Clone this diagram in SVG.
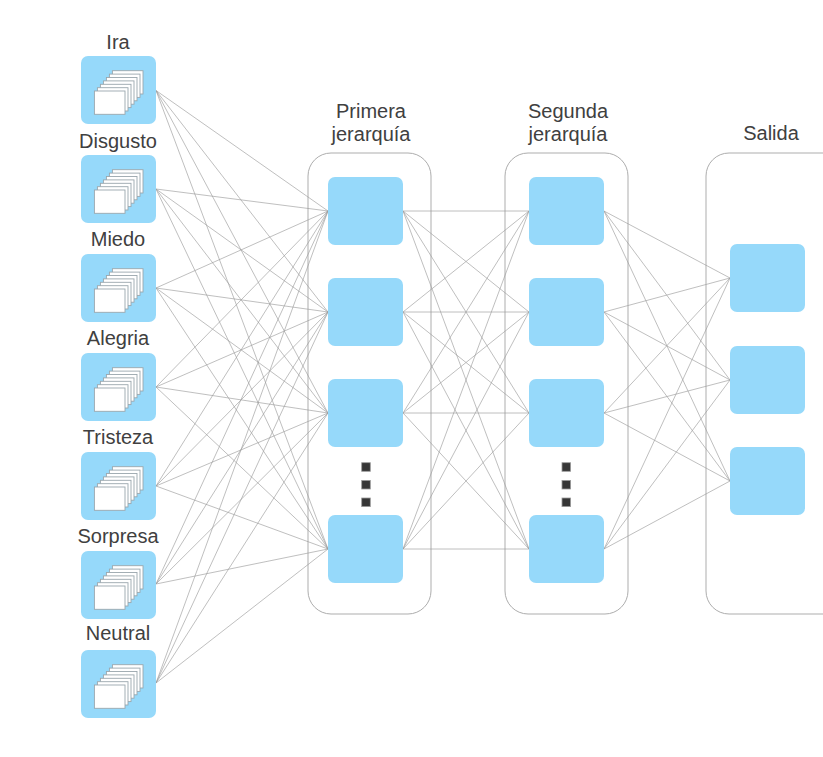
<svg xmlns="http://www.w3.org/2000/svg" xmlns:xlink="http://www.w3.org/1999/xlink" width="823" height="757" viewBox="0 0 823 757">
<style>
text{font-family:"Liberation Sans",Arial,sans-serif;font-size:20px;fill:#404040;text-anchor:middle}
.box{fill:#fff;stroke:#adadad;stroke-width:1}
.blue{fill:#96d9fa}
.card{fill:#fff;stroke:#9aa6ad;stroke-width:.9}
.dot{fill:#363636;stroke:#9a9a9a;stroke-width:.8}
#connectors line{stroke:#9c9c9c;stroke-width:.65}
</style>
<defs>
<g id="stack">
<rect class="card" x="27.4" y="14.7" width="30.6" height="23.3"/>
<rect class="card" x="24.4" y="18.1" width="30.6" height="23.3"/>
<rect class="card" x="21.4" y="21.5" width="30.6" height="23.3"/>
<rect class="card" x="18.4" y="24.9" width="30.6" height="23.3"/>
<rect class="card" x="15.4" y="28.3" width="30.6" height="23.3"/>
<rect class="card" x="12.4" y="31.7" width="30.6" height="23.3"/>
<rect class="card" x="9.4" y="35" width="30.6" height="23.3"/>
</g>
</defs>
<rect width="823" height="757" fill="#fff"/>
<g id="container-primera"><rect class="box" x="308" y="153" width="123" height="461" rx="23"/></g>
<g id="container-segunda"><rect class="box" x="505" y="153" width="123" height="461" rx="23"/></g>
<g id="container-salida"><rect class="box" x="706" y="153" width="140" height="461" rx="23"/></g>
<g id="connectors">
<line x1="156" y1="90.500" x2="328" y2="211"/><line x1="156" y1="90.500" x2="328" y2="312"/><line x1="156" y1="90.500" x2="328" y2="413"/><line x1="156" y1="90.500" x2="328" y2="549"/>
<line x1="156" y1="189" x2="328" y2="211"/><line x1="156" y1="189" x2="328" y2="312"/><line x1="156" y1="189" x2="328" y2="413"/><line x1="156" y1="189" x2="328" y2="549"/>
<line x1="156" y1="288" x2="328" y2="211"/><line x1="156" y1="288" x2="328" y2="312"/><line x1="156" y1="288" x2="328" y2="413"/><line x1="156" y1="288" x2="328" y2="549"/>
<line x1="156" y1="387" x2="328" y2="211"/><line x1="156" y1="387" x2="328" y2="312"/><line x1="156" y1="387" x2="328" y2="413"/><line x1="156" y1="387" x2="328" y2="549"/>
<line x1="156" y1="486" x2="328" y2="211"/><line x1="156" y1="486" x2="328" y2="312"/><line x1="156" y1="486" x2="328" y2="413"/><line x1="156" y1="486" x2="328" y2="549"/>
<line x1="156" y1="584" x2="328" y2="211"/><line x1="156" y1="584" x2="328" y2="312"/><line x1="156" y1="584" x2="328" y2="413"/><line x1="156" y1="584" x2="328" y2="549"/>
<line x1="156" y1="683" x2="328" y2="211"/><line x1="156" y1="683" x2="328" y2="312"/><line x1="156" y1="683" x2="328" y2="413"/><line x1="156" y1="683" x2="328" y2="549"/>
<line x1="403" y1="211" x2="529" y2="211"/><line x1="403" y1="211" x2="529" y2="312"/><line x1="403" y1="211" x2="529" y2="413"/><line x1="403" y1="211" x2="529" y2="549"/>
<line x1="403" y1="312" x2="529" y2="211"/><line x1="403" y1="312" x2="529" y2="312"/><line x1="403" y1="312" x2="529" y2="413"/><line x1="403" y1="312" x2="529" y2="549"/>
<line x1="403" y1="413" x2="529" y2="211"/><line x1="403" y1="413" x2="529" y2="312"/><line x1="403" y1="413" x2="529" y2="413"/><line x1="403" y1="413" x2="529" y2="549"/>
<line x1="403" y1="549" x2="529" y2="211"/><line x1="403" y1="549" x2="529" y2="312"/><line x1="403" y1="549" x2="529" y2="413"/><line x1="403" y1="549" x2="529" y2="549"/>
<line x1="604" y1="211" x2="730" y2="278"/><line x1="604" y1="211" x2="730" y2="380"/><line x1="604" y1="211" x2="730" y2="481"/>
<line x1="604" y1="312" x2="730" y2="278"/><line x1="604" y1="312" x2="730" y2="380"/><line x1="604" y1="312" x2="730" y2="481"/>
<line x1="604" y1="413" x2="730" y2="278"/><line x1="604" y1="413" x2="730" y2="380"/><line x1="604" y1="413" x2="730" y2="481"/>
<line x1="604" y1="549" x2="730" y2="278"/><line x1="604" y1="549" x2="730" y2="380"/><line x1="604" y1="549" x2="730" y2="481"/>
</g>
<g id="input-ira"><text x="118" y="49">Ira</text><rect class="blue" x="81" y="56" width="75" height="68" rx="7"/><use xlink:href="#stack" href="#stack" x="85" y="56"/></g>
<g id="input-disgusto"><text x="118" y="148">Disgusto</text><rect class="blue" x="81" y="155" width="75" height="68" rx="7"/><use xlink:href="#stack" href="#stack" x="85" y="155"/></g>
<g id="input-miedo"><text x="118" y="246">Miedo</text><rect class="blue" x="81" y="254" width="75" height="68" rx="7"/><use xlink:href="#stack" href="#stack" x="85" y="254"/></g>
<g id="input-alegria"><text x="118" y="345">Alegria</text><rect class="blue" x="81" y="353" width="75" height="68" rx="7"/><use xlink:href="#stack" href="#stack" x="85" y="353"/></g>
<g id="input-tristeza"><text x="118" y="444">Tristeza</text><rect class="blue" x="81" y="452" width="75" height="68" rx="7"/><use xlink:href="#stack" href="#stack" x="85" y="452"/></g>
<g id="input-sorpresa"><text x="118" y="543">Sorpresa</text><rect class="blue" x="81" y="551" width="75" height="68" rx="7"/><use xlink:href="#stack" href="#stack" x="85" y="551"/></g>
<g id="input-neutral"><text x="118" y="640">Neutral</text><rect class="blue" x="81" y="650" width="75" height="68" rx="7"/><use xlink:href="#stack" href="#stack" x="85" y="650"/></g>
<g id="title-primera"><text x="371" y="118">Primera</text><text x="371" y="141">jerarquía</text></g>
<g id="title-segunda"><text x="568" y="118">Segunda</text><text x="568" y="141">jerarquía</text></g>
<g id="title-salida"><text x="771" y="140">Salida</text></g>
<g id="l1-1"><rect class="blue" x="328" y="177" width="75" height="68" rx="7"/></g>
<g id="l1-2"><rect class="blue" x="328" y="278" width="75" height="68" rx="7"/></g>
<g id="l1-3"><rect class="blue" x="328" y="379" width="75" height="68" rx="7"/></g>
<g id="l1-4"><rect class="blue" x="328" y="515" width="75" height="68" rx="7"/></g>
<g id="l2-1"><rect class="blue" x="529" y="177" width="75" height="68" rx="7"/></g>
<g id="l2-2"><rect class="blue" x="529" y="278" width="75" height="68" rx="7"/></g>
<g id="l2-3"><rect class="blue" x="529" y="379" width="75" height="68" rx="7"/></g>
<g id="l2-4"><rect class="blue" x="529" y="515" width="75" height="68" rx="7"/></g>
<g id="out-1"><rect class="blue" x="730" y="244" width="75" height="68" rx="7"/></g>
<g id="out-2"><rect class="blue" x="730" y="346" width="75" height="68" rx="7"/></g>
<g id="out-3"><rect class="blue" x="730" y="447" width="75" height="68" rx="7"/></g>
<g id="dots-1"><rect class="dot" x="361.700" y="462.700" width="8.600" height="8.600"/><rect class="dot" x="361.700" y="480.400" width="8.600" height="8.600"/><rect class="dot" x="361.700" y="498" width="8.600" height="8.600"/></g>
<g id="dots-2"><rect class="dot" x="562" y="462.700" width="8.600" height="8.600"/><rect class="dot" x="562" y="480.400" width="8.600" height="8.600"/><rect class="dot" x="562" y="498" width="8.600" height="8.600"/></g>
</svg>
